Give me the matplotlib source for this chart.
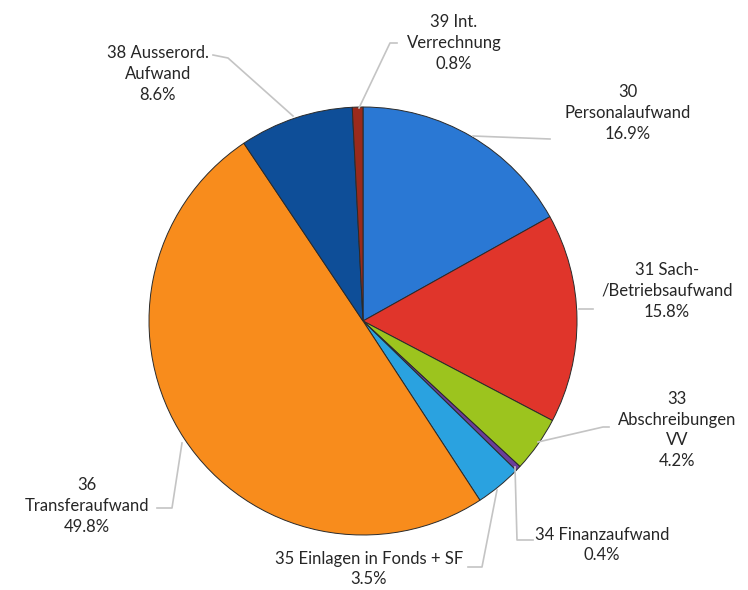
import numpy as np
import matplotlib.pyplot as plt

labels = ['30\nPersonalaufwand', '31 Sach-\n/Betriebsaufwand', '33\nAbschreibungen\nVV',
          '34 Finanzaufwand', '35 Einlagen in Fonds + SF', '36\nTransferaufwand',
          '38 Ausserord.\nAufwand', '39 Int.\nVerrechnung']
shares = [16.9, 15.8, 4.2, 0.4, 3.5, 49.8, 8.6, 0.8]
colors = ['#2a78d4', '#e0352b', '#9cc41e', '#6a3d9a', '#2aa2e0', '#f88c1c', '#0e4e98', '#9a2a1c']

# label text centres (pixels, top-left origin)
text_pos = [(628, 113), (667, 291), (677, 430), (602, 545), (369, 569), (87, 506), (158, 74), (454, 43)]
# leader lines as polylines (pixels, top-left origin)
leaders = [
    [(473, 136), (550, 139)],
    [(579, 309), (593, 309)],
    [(538, 442), (603, 427), (609, 427)],
    [(515, 467), (517, 540), (533, 540)],
    [(497, 490), (482, 567), (468, 567)],
    [(182, 443), (172, 508), (157, 508)],
    [(293, 116), (228, 58), (213, 55)],
    [(359, 108), (390, 43), (397, 43)],
]

H = 590
fig = plt.figure(figsize=(7.48, 5.9), dpi=100)
ax = fig.add_axes([0, 0, 1, 1])

ax.pie(shares, colors=colors, startangle=90, counterclock=False,
       center=(363, H - 321), radius=214,
       wedgeprops=dict(edgecolor='#2a2a2a', linewidth=0.7))

ax.set_xlim(0, 748)
ax.set_ylim(0, H)
ax.set_aspect('equal')
ax.axis('off')

for i, lab in enumerate(labels):
    x, y = text_pos[i]
    ax.text(x, H - y, f'{lab}\n{shares[i]}%', ha='center', va='center',
            fontsize=12, family='Lato', color='#262626', linespacing=1.38)
    pts = np.array(leaders[i])
    ax.plot(pts[:, 0], H - pts[:, 1], color='#c4c4c4', lw=1.2)

fig.savefig('out.png', dpi=100)
